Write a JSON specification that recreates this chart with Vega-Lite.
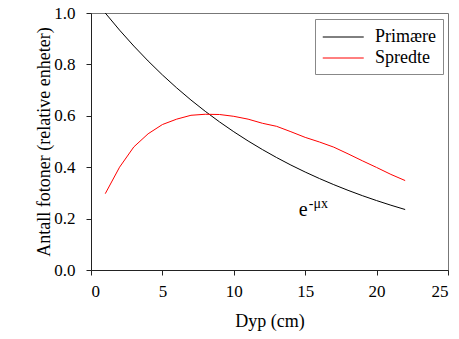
{
  "$schema": "https://vega.github.io/schema/vega-lite/v6.json",
  "width": 357,
  "height": 257,
  "autosize": "none",
  "padding": {"left": 91, "top": 13, "right": 11, "bottom": 69},
  "background": "white",
  "config": {
    "font": "Liberation Serif",
    "view": {"stroke": "#777777", "strokeWidth": 1},
    "axis": {
      "grid": false,
      "domainColor": "#222222",
      "tickColor": "#222222",
      "tickSize": 5,
      "labelFont": "Liberation Serif",
      "labelFontSize": 17,
      "labelColor": "black",
      "titleFont": "Liberation Serif",
      "titleFontSize": 18,
      "titleFontWeight": "normal",
      "titleColor": "black"
    }
  },
  "datasets": {
    "curves": [
      {"x": 1, "y": 1.0, "serie": "Primære"},
      {"x": 2, "y": 0.9334, "serie": "Primære"},
      {"x": 3, "y": 0.8713, "serie": "Primære"},
      {"x": 4, "y": 0.8133, "serie": "Primære"},
      {"x": 5, "y": 0.7591, "serie": "Primære"},
      {"x": 6, "y": 0.7086, "serie": "Primære"},
      {"x": 7, "y": 0.6614, "serie": "Primære"},
      {"x": 8, "y": 0.6174, "serie": "Primære"},
      {"x": 9, "y": 0.5763, "serie": "Primære"},
      {"x": 10, "y": 0.5379, "serie": "Primære"},
      {"x": 11, "y": 0.5021, "serie": "Primære"},
      {"x": 12, "y": 0.4687, "serie": "Primære"},
      {"x": 13, "y": 0.4375, "serie": "Primære"},
      {"x": 14, "y": 0.4083, "serie": "Primære"},
      {"x": 15, "y": 0.3812, "serie": "Primære"},
      {"x": 16, "y": 0.3558, "serie": "Primære"},
      {"x": 17, "y": 0.3321, "serie": "Primære"},
      {"x": 18, "y": 0.31, "serie": "Primære"},
      {"x": 19, "y": 0.2893, "serie": "Primære"},
      {"x": 20, "y": 0.2701, "serie": "Primære"},
      {"x": 21, "y": 0.2521, "serie": "Primære"},
      {"x": 22, "y": 0.2353, "serie": "Primære"},
      {"x": 1, "y": 0.297, "serie": "Spredte"},
      {"x": 2, "y": 0.4, "serie": "Spredte"},
      {"x": 3, "y": 0.479, "serie": "Spredte"},
      {"x": 4, "y": 0.53, "serie": "Spredte"},
      {"x": 5, "y": 0.566, "serie": "Spredte"},
      {"x": 6, "y": 0.587, "serie": "Spredte"},
      {"x": 7, "y": 0.602, "serie": "Spredte"},
      {"x": 8, "y": 0.606, "serie": "Spredte"},
      {"x": 9, "y": 0.605, "serie": "Spredte"},
      {"x": 10, "y": 0.598, "serie": "Spredte"},
      {"x": 11, "y": 0.587, "serie": "Spredte"},
      {"x": 12, "y": 0.571, "serie": "Spredte"},
      {"x": 13, "y": 0.559, "serie": "Spredte"},
      {"x": 14, "y": 0.538, "serie": "Spredte"},
      {"x": 15, "y": 0.516, "serie": "Spredte"},
      {"x": 16, "y": 0.498, "serie": "Spredte"},
      {"x": 17, "y": 0.478, "serie": "Spredte"},
      {"x": 18, "y": 0.452, "serie": "Spredte"},
      {"x": 19, "y": 0.425, "serie": "Spredte"},
      {"x": 20, "y": 0.399, "serie": "Spredte"},
      {"x": 21, "y": 0.372, "serie": "Spredte"},
      {"x": 22, "y": 0.348, "serie": "Spredte"}
    ],
    "notes": [
      {"x": 14.55, "y": 0.212, "label": "e", "size": 20},
      {"x": 15.25, "y": 0.241, "label": "-μx", "size": 14}
    ]
  },
  "layer": [
    {
      "data": {"name": "curves"},
      "mark": {"type": "line", "strokeWidth": 1},
      "encoding": {
        "x": {
          "field": "x",
          "type": "quantitative",
          "scale": {"domain": [0, 25], "nice": false},
          "axis": {
            "values": [0, 5, 10, 15, 20, 25],
            "title": "Dyp (cm)",
            "labelPadding": 8,
            "titlePadding": 13
          }
        },
        "y": {
          "field": "y",
          "type": "quantitative",
          "scale": {"domain": [0, 1], "nice": false},
          "axis": {
            "values": [0, 0.2, 0.4, 0.6, 0.8, 1.0],
            "format": ".1f",
            "title": "Antall fotoner (relative enheter)",
            "labelPadding": 11,
            "titlePadding": 0
          }
        },
        "color": {
          "field": "serie",
          "type": "nominal",
          "scale": {"domain": ["Primære", "Spredte"], "range": ["#000000", "#ff0000"]},
          "legend": {
            "title": null,
            "orient": "none",
            "legendX": 224,
            "legendY": 6,
            "symbolType": "M-1,0H3",
            "symbolSize": 420,
            "symbolStrokeWidth": 1,
            "labelFont": "Liberation Serif",
            "labelFontSize": 18,
            "labelColor": "black",
            "labelOffset": 31,
            "rowPadding": 1,
            "padding": 7,
            "strokeColor": "#888888",
            "fillColor": "white"
          }
        }
      }
    },
    {
      "data": {"name": "notes"},
      "mark": {"type": "text", "align": "left", "baseline": "alphabetic", "font": "Liberation Serif", "color": "black"},
      "encoding": {
        "x": {"field": "x", "type": "quantitative"},
        "y": {"field": "y", "type": "quantitative"},
        "text": {"field": "label"},
        "size": {"field": "size", "type": "quantitative", "scale": null}
      }
    }
  ]
}
